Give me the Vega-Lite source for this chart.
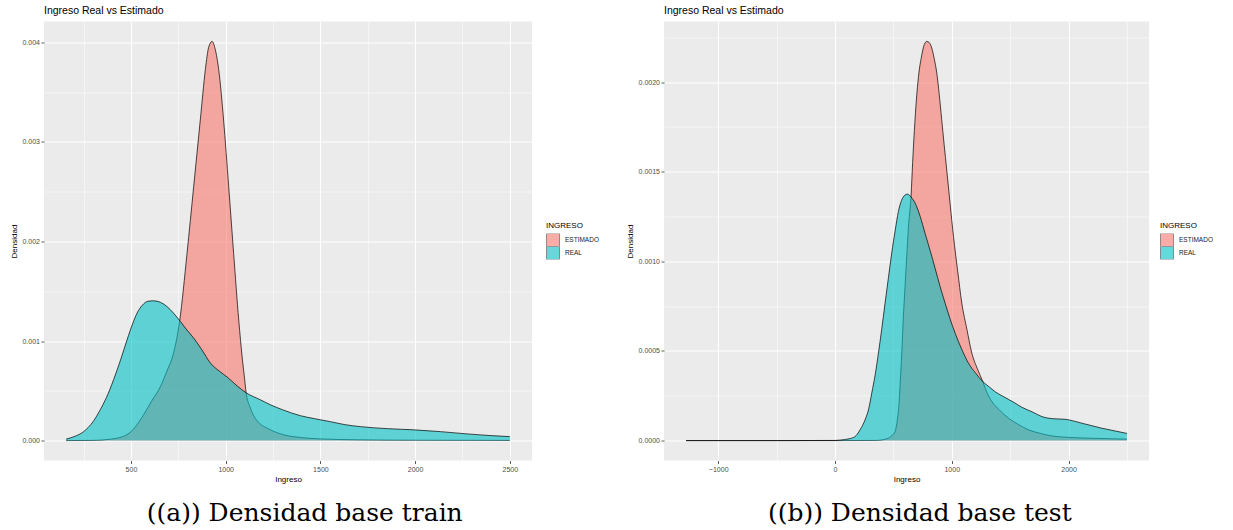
{
  "$schema": "https://vega.github.io/schema/vega-lite/v6.json",
  "background": "white",
  "padding": {"left": 10, "top": 5.5, "right": 0, "bottom": 0},
  "datasets": {
    "train": [
      {"ingreso": 158, "densidad": 0.000015, "serie": "REAL"},
      {"ingreso": 200, "densidad": 0.00004, "serie": "REAL"},
      {"ingreso": 250, "densidad": 0.00009, "serie": "REAL"},
      {"ingreso": 300, "densidad": 0.00019, "serie": "REAL"},
      {"ingreso": 338, "densidad": 0.00031, "serie": "REAL"},
      {"ingreso": 370, "densidad": 0.00043, "serie": "REAL"},
      {"ingreso": 408, "densidad": 0.00061, "serie": "REAL"},
      {"ingreso": 445, "densidad": 0.00081, "serie": "REAL"},
      {"ingreso": 479, "densidad": 0.00101, "serie": "REAL"},
      {"ingreso": 510, "densidad": 0.00118, "serie": "REAL"},
      {"ingreso": 532, "densidad": 0.00128, "serie": "REAL"},
      {"ingreso": 560, "densidad": 0.00136, "serie": "REAL"},
      {"ingreso": 590, "densidad": 0.0014, "serie": "REAL"},
      {"ingreso": 620, "densidad": 0.001404, "serie": "REAL"},
      {"ingreso": 655, "densidad": 0.00139, "serie": "REAL"},
      {"ingreso": 690, "densidad": 0.001347, "serie": "REAL"},
      {"ingreso": 725, "densidad": 0.00128, "serie": "REAL"},
      {"ingreso": 761, "densidad": 0.001196, "serie": "REAL"},
      {"ingreso": 796, "densidad": 0.00111, "serie": "REAL"},
      {"ingreso": 831, "densidad": 0.00103, "serie": "REAL"},
      {"ingreso": 875, "densidad": 0.00091, "serie": "REAL"},
      {"ingreso": 919, "densidad": 0.00078, "serie": "REAL"},
      {"ingreso": 972, "densidad": 0.00069, "serie": "REAL"},
      {"ingreso": 1007, "densidad": 0.00064, "serie": "REAL"},
      {"ingreso": 1060, "densidad": 0.00055, "serie": "REAL"},
      {"ingreso": 1108, "densidad": 0.00048, "serie": "REAL"},
      {"ingreso": 1183, "densidad": 0.00041, "serie": "REAL"},
      {"ingreso": 1236, "densidad": 0.00036, "serie": "REAL"},
      {"ingreso": 1300, "densidad": 0.00031, "serie": "REAL"},
      {"ingreso": 1395, "densidad": 0.00025, "serie": "REAL"},
      {"ingreso": 1470, "densidad": 0.00022, "serie": "REAL"},
      {"ingreso": 1553, "densidad": 0.00019, "serie": "REAL"},
      {"ingreso": 1630, "densidad": 0.00016, "serie": "REAL"},
      {"ingreso": 1712, "densidad": 0.00014, "serie": "REAL"},
      {"ingreso": 1853, "densidad": 0.00012, "serie": "REAL"},
      {"ingreso": 1993, "densidad": 0.000108, "serie": "REAL"},
      {"ingreso": 2134, "densidad": 0.00009, "serie": "REAL"},
      {"ingreso": 2275, "densidad": 0.000067, "serie": "REAL"},
      {"ingreso": 2400, "densidad": 0.00005, "serie": "REAL"},
      {"ingreso": 2500, "densidad": 0.00004, "serie": "REAL"},
      {"ingreso": 158, "densidad": 0.0, "serie": "ESTIMADO"},
      {"ingreso": 300, "densidad": 0.000002, "serie": "ESTIMADO"},
      {"ingreso": 391, "densidad": 0.000014, "serie": "ESTIMADO"},
      {"ingreso": 440, "densidad": 0.00003, "serie": "ESTIMADO"},
      {"ingreso": 479, "densidad": 0.00006, "serie": "ESTIMADO"},
      {"ingreso": 520, "densidad": 0.00013, "serie": "ESTIMADO"},
      {"ingreso": 567, "densidad": 0.00026, "serie": "ESTIMADO"},
      {"ingreso": 610, "densidad": 0.0004, "serie": "ESTIMADO"},
      {"ingreso": 655, "densidad": 0.00054, "serie": "ESTIMADO"},
      {"ingreso": 690, "densidad": 0.0007, "serie": "ESTIMADO"},
      {"ingreso": 725, "densidad": 0.00088, "serie": "ESTIMADO"},
      {"ingreso": 757, "densidad": 0.0012, "serie": "ESTIMADO"},
      {"ingreso": 796, "densidad": 0.00188, "serie": "ESTIMADO"},
      {"ingreso": 831, "densidad": 0.00255, "serie": "ESTIMADO"},
      {"ingreso": 866, "densidad": 0.00322, "serie": "ESTIMADO"},
      {"ingreso": 893, "densidad": 0.00373, "serie": "ESTIMADO"},
      {"ingreso": 910, "densidad": 0.00395, "serie": "ESTIMADO"},
      {"ingreso": 928, "densidad": 0.00401, "serie": "ESTIMADO"},
      {"ingreso": 945, "densidad": 0.00393, "serie": "ESTIMADO"},
      {"ingreso": 963, "densidad": 0.00373, "serie": "ESTIMADO"},
      {"ingreso": 989, "densidad": 0.00322, "serie": "ESTIMADO"},
      {"ingreso": 1016, "densidad": 0.00255, "serie": "ESTIMADO"},
      {"ingreso": 1042, "densidad": 0.00188, "serie": "ESTIMADO"},
      {"ingreso": 1069, "densidad": 0.00121, "serie": "ESTIMADO"},
      {"ingreso": 1088, "densidad": 0.00082, "serie": "ESTIMADO"},
      {"ingreso": 1100, "densidad": 0.00062, "serie": "ESTIMADO"},
      {"ingreso": 1108, "densidad": 0.00048, "serie": "ESTIMADO"},
      {"ingreso": 1128, "densidad": 0.00034, "serie": "ESTIMADO"},
      {"ingreso": 1148, "densidad": 0.00025, "serie": "ESTIMADO"},
      {"ingreso": 1180, "densidad": 0.00017, "serie": "ESTIMADO"},
      {"ingreso": 1219, "densidad": 0.000125, "serie": "ESTIMADO"},
      {"ingreso": 1270, "densidad": 0.00008, "serie": "ESTIMADO"},
      {"ingreso": 1324, "densidad": 0.00005, "serie": "ESTIMADO"},
      {"ingreso": 1400, "densidad": 0.00003, "serie": "ESTIMADO"},
      {"ingreso": 1500, "densidad": 0.000017, "serie": "ESTIMADO"},
      {"ingreso": 1700, "densidad": 0.000008, "serie": "ESTIMADO"},
      {"ingreso": 2000, "densidad": 0.000004, "serie": "ESTIMADO"},
      {"ingreso": 2500, "densidad": 0.000002, "serie": "ESTIMADO"}
    ],
    "test": [
      {"ingreso": -1275, "densidad": 0.0, "serie": "REAL"},
      {"ingreso": -500, "densidad": 0.0, "serie": "REAL"},
      {"ingreso": 0, "densidad": 0.000001, "serie": "REAL"},
      {"ingreso": 57, "densidad": 0.000004, "serie": "REAL"},
      {"ingreso": 120, "densidad": 0.00001, "serie": "REAL"},
      {"ingreso": 171, "densidad": 0.000022, "serie": "REAL"},
      {"ingreso": 215, "densidad": 0.00006, "serie": "REAL"},
      {"ingreso": 257, "densidad": 0.000115, "serie": "REAL"},
      {"ingreso": 290, "densidad": 0.00018, "serie": "REAL"},
      {"ingreso": 315, "densidad": 0.000265, "serie": "REAL"},
      {"ingreso": 345, "densidad": 0.00037, "serie": "REAL"},
      {"ingreso": 372, "densidad": 0.000488, "serie": "REAL"},
      {"ingreso": 400, "densidad": 0.00062, "serie": "REAL"},
      {"ingreso": 429, "densidad": 0.000767, "serie": "REAL"},
      {"ingreso": 458, "densidad": 0.00091, "serie": "REAL"},
      {"ingreso": 486, "densidad": 0.001046, "serie": "REAL"},
      {"ingreso": 515, "densidad": 0.00117, "serie": "REAL"},
      {"ingreso": 543, "densidad": 0.001278, "serie": "REAL"},
      {"ingreso": 570, "densidad": 0.00134, "serie": "REAL"},
      {"ingreso": 600, "densidad": 0.00137, "serie": "REAL"},
      {"ingreso": 623, "densidad": 0.001375, "serie": "REAL"},
      {"ingreso": 650, "densidad": 0.00136, "serie": "REAL"},
      {"ingreso": 686, "densidad": 0.001325, "serie": "REAL"},
      {"ingreso": 730, "densidad": 0.00125, "serie": "REAL"},
      {"ingreso": 771, "densidad": 0.001157, "serie": "REAL"},
      {"ingreso": 815, "densidad": 0.00106, "serie": "REAL"},
      {"ingreso": 857, "densidad": 0.000962, "serie": "REAL"},
      {"ingreso": 900, "densidad": 0.00086, "serie": "REAL"},
      {"ingreso": 943, "densidad": 0.000767, "serie": "REAL"},
      {"ingreso": 985, "densidad": 0.00068, "serie": "REAL"},
      {"ingreso": 1029, "densidad": 0.000599, "serie": "REAL"},
      {"ingreso": 1085, "densidad": 0.00051, "serie": "REAL"},
      {"ingreso": 1143, "densidad": 0.000432, "serie": "REAL"},
      {"ingreso": 1200, "densidad": 0.00038, "serie": "REAL"},
      {"ingreso": 1266, "densidad": 0.000329, "serie": "REAL"},
      {"ingreso": 1320, "densidad": 0.0003, "serie": "REAL"},
      {"ingreso": 1371, "densidad": 0.000273, "serie": "REAL"},
      {"ingreso": 1430, "densidad": 0.00025, "serie": "REAL"},
      {"ingreso": 1486, "densidad": 0.00023, "serie": "REAL"},
      {"ingreso": 1540, "densidad": 0.00021, "serie": "REAL"},
      {"ingreso": 1600, "densidad": 0.000186, "serie": "REAL"},
      {"ingreso": 1690, "densidad": 0.00016, "serie": "REAL"},
      {"ingreso": 1772, "densidad": 0.000134, "serie": "REAL"},
      {"ingreso": 1870, "densidad": 0.000122, "serie": "REAL"},
      {"ingreso": 1971, "densidad": 0.000119, "serie": "REAL"},
      {"ingreso": 2040, "densidad": 0.00011, "serie": "REAL"},
      {"ingreso": 2114, "densidad": 0.000097, "serie": "REAL"},
      {"ingreso": 2200, "densidad": 0.000083, "serie": "REAL"},
      {"ingreso": 2286, "densidad": 0.000069, "serie": "REAL"},
      {"ingreso": 2390, "densidad": 0.000055, "serie": "REAL"},
      {"ingreso": 2500, "densidad": 0.00004, "serie": "REAL"},
      {"ingreso": -1275, "densidad": 0.0, "serie": "ESTIMADO"},
      {"ingreso": 0, "densidad": 0.0, "serie": "ESTIMADO"},
      {"ingreso": 350, "densidad": 0.000001, "serie": "ESTIMADO"},
      {"ingreso": 443, "densidad": 0.00001, "serie": "ESTIMADO"},
      {"ingreso": 490, "densidad": 0.00003, "serie": "ESTIMADO"},
      {"ingreso": 514, "densidad": 0.00005, "serie": "ESTIMADO"},
      {"ingreso": 535, "densidad": 0.00012, "serie": "ESTIMADO"},
      {"ingreso": 549, "densidad": 0.00021, "serie": "ESTIMADO"},
      {"ingreso": 560, "densidad": 0.00034, "serie": "ESTIMADO"},
      {"ingreso": 572, "densidad": 0.000488, "serie": "ESTIMADO"},
      {"ingreso": 585, "densidad": 0.00068, "serie": "ESTIMADO"},
      {"ingreso": 600, "densidad": 0.00086, "serie": "ESTIMADO"},
      {"ingreso": 615, "densidad": 0.00103, "serie": "ESTIMADO"},
      {"ingreso": 629, "densidad": 0.00119, "serie": "ESTIMADO"},
      {"ingreso": 652, "densidad": 0.00137, "serie": "ESTIMADO"},
      {"ingreso": 665, "densidad": 0.00155, "serie": "ESTIMADO"},
      {"ingreso": 680, "densidad": 0.00173, "serie": "ESTIMADO"},
      {"ingreso": 697, "densidad": 0.0019, "serie": "ESTIMADO"},
      {"ingreso": 715, "densidad": 0.00203, "serie": "ESTIMADO"},
      {"ingreso": 743, "densidad": 0.00215, "serie": "ESTIMADO"},
      {"ingreso": 765, "densidad": 0.00221, "serie": "ESTIMADO"},
      {"ingreso": 786, "densidad": 0.002227, "serie": "ESTIMADO"},
      {"ingreso": 808, "densidad": 0.00222, "serie": "ESTIMADO"},
      {"ingreso": 829, "densidad": 0.00219, "serie": "ESTIMADO"},
      {"ingreso": 850, "densidad": 0.00213, "serie": "ESTIMADO"},
      {"ingreso": 872, "densidad": 0.00205, "serie": "ESTIMADO"},
      {"ingreso": 893, "densidad": 0.00193, "serie": "ESTIMADO"},
      {"ingreso": 914, "densidad": 0.00179, "serie": "ESTIMADO"},
      {"ingreso": 935, "densidad": 0.00165, "serie": "ESTIMADO"},
      {"ingreso": 957, "densidad": 0.00151, "serie": "ESTIMADO"},
      {"ingreso": 986, "densidad": 0.00132, "serie": "ESTIMADO"},
      {"ingreso": 1015, "densidad": 0.001138, "serie": "ESTIMADO"},
      {"ingreso": 1050, "densidad": 0.00095, "serie": "ESTIMADO"},
      {"ingreso": 1086, "densidad": 0.000767, "serie": "ESTIMADO"},
      {"ingreso": 1130, "densidad": 0.00062, "serie": "ESTIMADO"},
      {"ingreso": 1172, "densidad": 0.000488, "serie": "ESTIMADO"},
      {"ingreso": 1220, "densidad": 0.0004, "serie": "ESTIMADO"},
      {"ingreso": 1266, "densidad": 0.000329, "serie": "ESTIMADO"},
      {"ingreso": 1300, "densidad": 0.00027, "serie": "ESTIMADO"},
      {"ingreso": 1343, "densidad": 0.000218, "serie": "ESTIMADO"},
      {"ingreso": 1410, "densidad": 0.00017, "serie": "ESTIMADO"},
      {"ingreso": 1486, "densidad": 0.000125, "serie": "ESTIMADO"},
      {"ingreso": 1570, "densidad": 0.00009, "serie": "ESTIMADO"},
      {"ingreso": 1658, "densidad": 0.00006, "serie": "ESTIMADO"},
      {"ingreso": 1760, "densidad": 0.00004, "serie": "ESTIMADO"},
      {"ingreso": 1857, "densidad": 0.000026, "serie": "ESTIMADO"},
      {"ingreso": 2000, "densidad": 0.000018, "serie": "ESTIMADO"},
      {"ingreso": 2200, "densidad": 0.000013, "serie": "ESTIMADO"},
      {"ingreso": 2500, "densidad": 0.000008, "serie": "ESTIMADO"}
    ]
  },
  "hconcat": [
    {
      "title": {"text": "((a)) Densidad base train", "orient": "bottom", "anchor": "middle", "font": "DejaVu Serif", "fontSize": 25, "fontWeight": "normal", "color": "black", "offset": 17},
      "vconcat": [
        {
          "width": 488,
          "height": 439,
          "title": {"text": "Ingreso Real vs Estimado", "anchor": "start", "frame": "group", "font": "Liberation Sans", "fontSize": 10.5, "fontWeight": "normal", "color": "black", "offset": 5},
          "data": {"name": "train"},
          "encoding": {
            "x": {
              "field": "ingreso", "type": "quantitative", "title": "Ingreso",
              "scale": {"domain": [41, 2617], "nice": false, "zero": false},
              "axis": {
                "values": [250, 500, 750, 1000, 1250, 1500, 1750, 2000, 2250, 2500],
                "labelExpr": "datum.value % 500 === 0 ? format(datum.value, 'd') : ''",
                "gridWidth": {"condition": {"test": "datum.value % 500 === 0", "value": 1.1}, "value": 0.5},
                "tickOpacity": {"condition": {"test": "datum.value % 500 === 0", "value": 1}, "value": 0}
              }
            },
            "y": {
              "field": "densidad", "type": "quantitative", "title": "Densidad",
              "scale": {"domain": [-0.0002, 0.00421], "nice": false, "zero": false},
              "axis": {
                "values": [0, 0.0005, 0.001, 0.0015, 0.002, 0.0025, 0.003, 0.0035, 0.004],
                "labelExpr": "abs(datum.value * 1000 - round(datum.value * 1000)) < 1e-6 ? format(datum.value, '.3f') : ''",
                "gridWidth": {"condition": {"test": "abs(datum.value * 1000 - round(datum.value * 1000)) < 1e-6", "value": 1.1}, "value": 0.5},
                "tickOpacity": {"condition": {"test": "abs(datum.value * 1000 - round(datum.value * 1000)) < 1e-6", "value": 1}, "value": 0}
              }
            }
          },
          "layer": [
            {
              "transform": [{"filter": "datum.serie === 'ESTIMADO'"}],
              "mark": {"type": "area", "opacity": 0.6, "interpolate": "monotone"},
              "encoding": {
                "color": {"field": "serie", "type": "nominal", "title": "INGRESO",
                  "scale": {"domain": ["ESTIMADO", "REAL"], "range": ["#F8766D", "#00BFC4"]},
                  "legend": {"orient": "none", "legendX": 502, "legendY": 200, "titleFontWeight": "normal"}}
              }
            },
            {
              "transform": [{"filter": "datum.serie === 'ESTIMADO'"}],
              "mark": {"type": "line", "stroke": "black", "strokeWidth": 0.7, "interpolate": "monotone"},
              "encoding": {}
            },
            {
              "transform": [{"filter": "datum.serie === 'REAL'"}],
              "mark": {"type": "area", "opacity": 0.6, "interpolate": "monotone"},
              "encoding": {
                "color": {"field": "serie", "type": "nominal", "title": "INGRESO",
                  "scale": {"domain": ["ESTIMADO", "REAL"], "range": ["#F8766D", "#00BFC4"]},
                  "legend": {"orient": "none", "legendX": 502, "legendY": 200, "titleFontWeight": "normal"}}
              }
            },
            {
              "transform": [{"filter": "datum.serie === 'REAL'"}],
              "mark": {"type": "line", "stroke": "black", "strokeWidth": 0.7, "interpolate": "monotone"},
              "encoding": {}
            }
          ]
        }
      ]
    },
    {
      "title": {"text": "((b)) Densidad base test", "orient": "bottom", "anchor": "middle", "font": "DejaVu Serif", "fontSize": 25, "fontWeight": "normal", "color": "black", "offset": 17},
      "vconcat": [
        {
          "width": 485,
          "height": 439,
          "title": {"text": "Ingreso Real vs Estimado", "anchor": "start", "frame": "group", "font": "Liberation Sans", "fontSize": 10.5, "fontWeight": "normal", "color": "black", "offset": 5},
          "data": {"name": "test"},
          "encoding": {
            "x": {
              "field": "ingreso", "type": "quantitative", "title": "Ingreso",
              "scale": {"domain": [-1464, 2689], "nice": false, "zero": false},
              "axis": {
                "values": [-1000, -500, 0, 500, 1000, 1500, 2000, 2500],
                "labelExpr": "datum.value % 1000 === 0 ? format(datum.value, 'd') : ''",
                "gridWidth": {"condition": {"test": "datum.value % 1000 === 0", "value": 1.1}, "value": 0.5},
                "tickOpacity": {"condition": {"test": "datum.value % 1000 === 0", "value": 1}, "value": 0}
              }
            },
            "y": {
              "field": "densidad", "type": "quantitative", "title": "Densidad",
              "scale": {"domain": [-0.000111, 0.002338], "nice": false, "zero": false},
              "axis": {
                "values": [0, 0.00025, 0.0005, 0.00075, 0.001, 0.00125, 0.0015, 0.00175, 0.002, 0.00225],
                "labelExpr": "abs(datum.value * 2000 - round(datum.value * 2000)) < 1e-6 ? format(datum.value, '.4f') : ''",
                "gridWidth": {"condition": {"test": "abs(datum.value * 2000 - round(datum.value * 2000)) < 1e-6", "value": 1.1}, "value": 0.5},
                "tickOpacity": {"condition": {"test": "abs(datum.value * 2000 - round(datum.value * 2000)) < 1e-6", "value": 1}, "value": 0}
              }
            }
          },
          "layer": [
            {
              "transform": [{"filter": "datum.serie === 'ESTIMADO'"}],
              "mark": {"type": "area", "opacity": 0.6, "interpolate": "monotone"},
              "encoding": {
                "color": {"field": "serie", "type": "nominal", "title": "INGRESO",
                  "scale": {"domain": ["ESTIMADO", "REAL"], "range": ["#F8766D", "#00BFC4"]},
                  "legend": {"orient": "none", "legendX": 496, "legendY": 200, "titleFontWeight": "normal"}}
              }
            },
            {
              "transform": [{"filter": "datum.serie === 'ESTIMADO'"}],
              "mark": {"type": "line", "stroke": "black", "strokeWidth": 0.7, "interpolate": "monotone"},
              "encoding": {}
            },
            {
              "transform": [{"filter": "datum.serie === 'REAL'"}],
              "mark": {"type": "area", "opacity": 0.6, "interpolate": "monotone"},
              "encoding": {
                "color": {"field": "serie", "type": "nominal", "title": "INGRESO",
                  "scale": {"domain": ["ESTIMADO", "REAL"], "range": ["#F8766D", "#00BFC4"]},
                  "legend": {"orient": "none", "legendX": 496, "legendY": 200, "titleFontWeight": "normal"}}
              }
            },
            {
              "transform": [{"filter": "datum.serie === 'REAL'"}],
              "mark": {"type": "line", "stroke": "black", "strokeWidth": 0.7, "interpolate": "monotone"},
              "encoding": {}
            }
          ]
        }
      ]
    }
  ],
  "spacing": 27,
  "resolve": {
    "scale": {"color": "independent", "x": "independent", "y": "independent"},
    "legend": {"color": "independent"}
  },
  "config": {
    "view": {"fill": "#EBEBEB", "stroke": null},
    "axis": {
      "domain": false,
      "gridColor": "white",
      "gridOpacity": 1,
      "tickColor": "#333333",
      "tickSize": 3,
      "tickWidth": 0.8,
      "labelFont": "Liberation Sans",
      "labelFontSize": 7,
      "labelColor": "#4D4D4D",
      "labelPadding": 1.5,
      "labelOverlap": false,
      "labelFlush": false,
      "titleFont": "Liberation Sans",
      "titleFontSize": 8,
      "titleFontWeight": "normal",
      "titleColor": "black",
      "titlePadding": 3.5
    },
    "legend": {
      "titleFont": "Liberation Sans",
      "titleFontSize": 8,
      "titleFontWeight": "normal",
      "titleColor": "black",
      "titlePadding": 4,
      "labelFont": "Liberation Sans",
      "labelFontSize": 6.5,
      "labelColor": "#1A1A1A",
      "labelOffset": 5,
      "symbolType": "square",
      "symbolSize": 169,
      "symbolStrokeColor": "black",
      "symbolStrokeWidth": 0.7,
      "symbolOpacity": 0.6,
      "clipHeight": 13,
      "rowPadding": 0
    }
  }
}
